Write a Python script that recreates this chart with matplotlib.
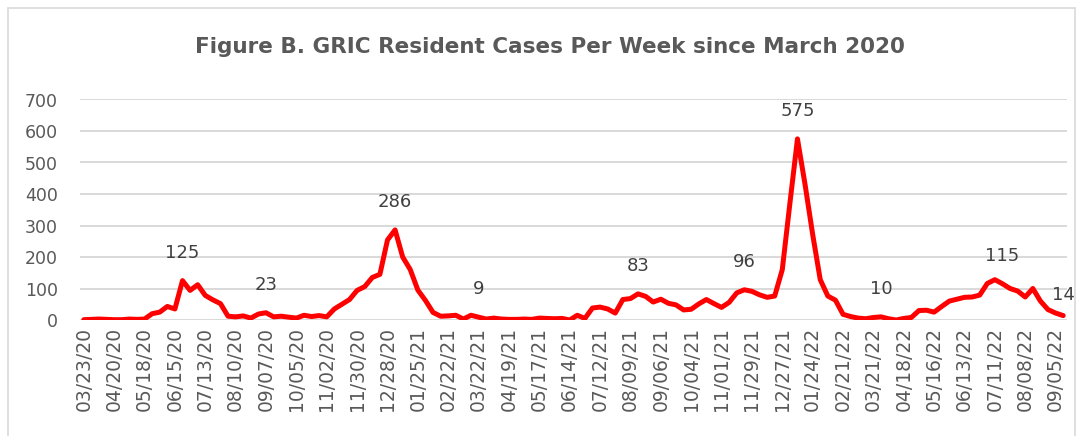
import pandas as pd
import matplotlib
matplotlib.use("Agg")
import matplotlib.pyplot as plt
from matplotlib.patches import Rectangle

# weekly resident cases, starting week of 03/23/20
START = "2020-03-23"
cases = [
    1, 2, 3, 2, 1, 1, 3, 2, 3, 20,
    25, 43, 35, 125, 94, 112, 78, 64, 52, 12,
    10, 13, 6, 19, 23, 10, 12, 9, 6, 15,
    11, 14, 10, 35, 50, 65, 94, 106, 135, 145,
    254, 286, 200, 160, 95, 62, 24, 12, 13, 15,
    3, 15, 9, 3, 6, 3, 2, 2, 3, 2,
    6, 5, 4, 5, 0, 15, 5, 38, 41, 35,
    22, 65, 68, 83, 75, 57, 66, 53, 48, 32,
    34, 51, 65, 52, 40, 56, 86, 96, 91, 80,
    72, 76, 160, 370, 575, 430, 272, 128, 76, 63,
    18, 11, 6, 4, 8, 10, 4, 0, 5, 8,
    30, 31, 25, 43, 60, 66, 72, 73, 79, 116,
    128, 115, 100, 92, 73, 100, 60, 33, 22, 14,
]
weeks = pd.date_range(START, periods=len(cases), freq="7D")
week_labels = weeks.strftime("%m/%d/%y").tolist()

# weeks that carry a data label
labelled = [13, 24, 41, 52, 73, 87, 94, 105, 121, 129]

y_ticks = [0, 100, 200, 300, 400, 500, 600, 700]

GRAY_TXT = "#595959"
GRID = "#d9d9d9"

plt.rcParams["font.family"] = ["DejaVu Sans"]

fig = plt.figure(figsize=(10.83, 4.36), dpi=100)
ax = fig.add_axes([80 / 1083, 1 - 320 / 436, 987 / 1083, 220.5 / 436])

x = list(range(len(cases)))
ax.plot(x, cases, color="#ff0000", lw=3.6, solid_joinstyle="round",
        solid_capstyle="round", zorder=3)

ax.set_xlim(-0.5, len(cases) - 0.5)
ax.set_ylim(0, 700)
ax.set_yticks(y_ticks)
ax.set_xticks(x[::4])
ax.set_xticklabels(week_labels[::4], rotation=90)
ax.tick_params(axis="both", length=0, labelsize=13.5, labelcolor=GRAY_TXT)
ax.tick_params(axis="x", pad=5)
ax.tick_params(axis="y", pad=16, labelsize=12.5)
ax.grid(axis="y", color=GRID, lw=1.4)
ax.set_axisbelow(True)
for s in ax.spines.values():
    s.set_visible(False)

for i in labelled:
    off = 21 if i == len(cases) - 1 else 28
    ax.annotate(str(cases[i]), (i, cases[i]), xytext=(0, off),
                textcoords="offset pixels", ha="center", va="center",
                fontsize=13, color="#404040", annotation_clip=False)

fig.text(0.508, 1 - 47 / 436,
         "Figure B. GRIC Resident Cases Per Week since March 2020",
         ha="center", va="center", fontsize=15.5, fontweight="bold",
         color=GRAY_TXT)

fig.patches.append(Rectangle((8 / 1083, -0.05), 1067 / 1083, 1.05 - 8 / 436,
                             transform=fig.transFigure, fill=False,
                             edgecolor=GRID, lw=1.2))

fig.savefig("out.png", dpi=100)
